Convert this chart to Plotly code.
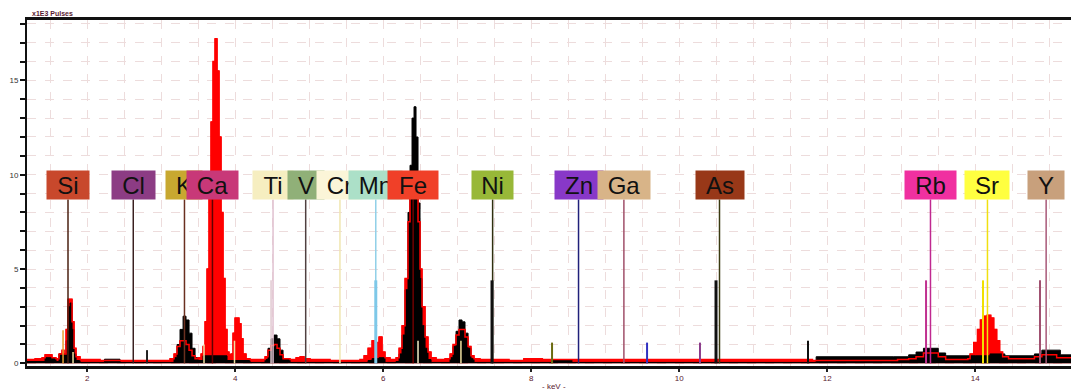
import plotly.graph_objects as go

# ---------------- data ----------------
red_kev = [1.186, 1.295, 1.389, 1.430, 1.470, 1.524, 1.578, 1.619, 1.659, 1.686, 1.714, 1.741, 1.768, 1.795,
           1.822, 1.849, 1.903, 2.173, 2.443, 2.714, 2.984, 3.119, 3.173, 3.214, 3.254, 3.295, 3.335, 3.376,
           3.416, 3.457, 3.497, 3.538, 3.565, 3.592, 3.619, 3.646, 3.673, 3.700, 3.727, 3.754, 3.781, 3.808,
           3.835, 3.862, 3.889, 3.916, 3.943, 3.970, 3.997, 4.024, 4.051, 4.078, 4.105, 4.146, 4.200, 4.335,
           4.403, 4.443, 4.484, 4.524, 4.565, 4.605, 4.646, 4.741, 4.822, 4.876, 4.930, 5.011, 5.281, 5.686,
           5.741, 5.795, 5.849, 5.903, 5.943, 5.984, 6.024, 6.092, 6.173, 6.214, 6.254, 6.295, 6.335, 6.362,
           6.389, 6.416, 6.443, 6.470, 6.497, 6.524, 6.565, 6.605, 6.646, 6.714, 6.835, 6.903, 6.943, 6.984,
           7.024, 7.065, 7.105, 7.146, 7.186, 7.227, 7.308, 7.700, 7.900, 8.150, 8.400, 9.000, 10.00, 11.00,
           11.70, 11.80, 12.50, 12.95, 13.10, 13.20, 13.30, 13.40, 13.50, 13.60, 13.90, 13.93, 13.98, 14.03,
           14.07, 14.11, 14.16, 14.21, 14.25, 14.29, 14.33, 14.37, 14.45, 14.80, 14.90, 15.00, 15.10, 15.402]
red_counts = [0.20, 0.25, 0.30, 0.45, 0.45, 0.30, 0.25, 0.50, 0.70, 0.50, 1.80, 3.40, 3.40, 2.20,
              0.80, 0.35, 0.20, 0.15, 0.15, 0.15, 0.15, 0.25, 0.50, 0.90, 1.20, 1.20, 1.00, 0.70,
              0.40, 0.25, 0.30, 0.50, 0.90, 2.20, 5.00, 9.00, 12.8, 16.0, 17.2, 15.5, 12.0, 8.00,
              4.50, 1.80, 0.60, 0.45, 0.50, 1.60, 2.40, 2.40, 2.10, 1.30, 0.50, 0.25, 0.20, 0.20,
              0.35, 0.70, 0.95, 1.00, 0.80, 0.45, 0.25, 0.20, 0.30, 0.35, 0.25, 0.20, 0.15, 0.20,
              0.40, 0.80, 1.20, 1.10, 1.40, 0.60, 0.30, 0.20, 0.30, 0.80, 2.00, 4.50, 7.50, 9.00,
              9.80, 10.0, 9.20, 7.50, 5.00, 3.00, 1.40, 0.60, 0.30, 0.20, 0.25, 0.50, 1.00, 1.50,
              1.80, 1.80, 1.40, 0.90, 0.40, 0.25, 0.20, 0.15, 0.25, 0.20, 0.20, 0.20, 0.20, 0.20,
              0.20, 0.15, 0.15, 0.20, 0.25, 0.35, 0.55, 0.55, 0.35, 0.20, 0.25, 0.50, 1.10, 1.80,
              2.30, 2.50, 2.55, 2.40, 1.80, 1.20, 0.60, 0.35, 0.25, 0.35, 0.45, 0.45, 0.30, 0.30]

black_kev = [1.186, 1.389, 1.430, 1.524, 1.578, 1.619, 1.686, 1.714, 1.741, 1.768, 1.795, 1.822, 1.849,
             1.903, 2.233, 2.443, 3.119, 3.173, 3.214, 3.254, 3.295, 3.335, 3.376, 3.416, 3.457, 3.497,
             3.565, 3.889, 4.200, 4.403, 4.443, 4.484, 4.524, 4.565, 4.605, 4.646, 4.741, 5.795, 5.849,
             5.943, 6.024, 6.173, 6.214, 6.254, 6.295, 6.335, 6.362, 6.389, 6.416, 6.443, 6.470, 6.497,
             6.524, 6.565, 6.605, 6.646, 6.903, 6.943, 6.984, 7.024, 7.065, 7.105, 7.146, 7.186, 7.227,
             8.300, 8.550, 11.75, 11.85, 12.90, 13.10, 13.20, 13.30, 13.40, 13.50, 13.60, 14.00, 14.20,
             14.40, 14.80, 14.90, 15.00, 15.15, 15.402]
black_counts = [0.10, 0.10, 0.30, 0.28, 0.10, 0.50, 0.45, 1.20, 3.00, 3.20, 1.80, 0.50, 0.15,
                0.05, 0.22, 0.05, 0.05, 0.30, 1.00, 1.80, 2.50, 2.30, 1.60, 0.80, 0.30, 0.15,
                0.40, 0.15, 0.05, 0.20, 0.80, 1.30, 1.50, 1.30, 0.70, 0.20, 0.05, 0.15, 0.25,
                0.30, 0.05, 0.10, 0.50, 1.50, 3.90, 8.00, 10.5, 13.0, 13.6, 12.0, 8.50, 4.50,
                2.00, 0.80, 0.20, 0.05, 0.30, 0.90, 1.70, 2.30, 2.20, 1.60, 0.80, 0.25, 0.05,
                0.20, 0.05, 0.05, 0.35, 0.35, 0.45, 0.60, 0.80, 0.80, 0.55, 0.40, 0.40, 0.50,
                0.40, 0.50, 0.70, 0.70, 0.45, 0.45]

elements = ["Si", "Cl", "K", "Ca", "Ti", "V", "Cr", "Mn", "Fe", "Ni", "Zn", "Ga", "As", "Rb", "Sr", "Y"]
element_kev = [1.740, 2.622, 3.314, 3.692, 4.511, 4.952, 5.415, 5.899, 6.404, 7.478, 8.639, 9.252,
               10.544, 13.395, 14.165, 14.958]

marker_kev = [1.673, 1.808, 2.808, 3.578, 3.990, 4.484, 5.899, 6.470, 7.050, 7.470, 8.281, 9.565,
              10.280, 10.497, 11.740, 13.335, 14.105, 14.875]
marker_height = [1.75, 0.6, 0.7, 1.0, 1.2, 4.4, 4.4, 1.2, 1.2, 4.4, 1.1, 1.1, 1.1, 4.4, 1.2, 4.4, 4.4, 4.4]

y_tick_labels = ["0", "5", "10", "15"]
x_tick_vals = [2, 4, 6, 8, 10, 12, 14]

# ---------------- styles ----------------
box_colors = ["#c8482c", "#8c3c84", "#c8a830", "#c83878", "#f6eec0", "#90b078", "#fbf5d8", "#ace0c8",
              "#f04028", "#98b838", "#8838c8", "#d8b488", "#983818", "#f030a0", "#ffff40", "#c8a07c"]
box_widths = [42, 43, 36, 51, 40, 36, 45, 53, 50, 41, 48, 52, 48, 51, 44, 36]
line_colors = ["#4a2010", "#3a2020", "#6a3020", "#600000", "#e0c0d0", "#504040", "#f0e6b0", "#90d0e8",
               "#700000", "#303010", "#20207a", "#a0506a", "#3a3a10", "#c02890", "#f0e010", "#a85878"]
marker_colors = ["#e8a030", "#f0e0a0", "#202020", "#f0e0a0", "#f0e0a0", "#e0c8d0", "#7ec8e8", "#f4ecc8",
                 "#f0e0a0", "#101010", "#6b6b10", "#3030c0", "#8a3a8a", "#101010", "#101010", "#c03090",
                 "#f0e000", "#a05070"]
marker_widths = [1.5, 1.5, 2, 1.5, 1.5, 1.5, 3, 1.5, 1.5, 3, 2, 2, 2, 3, 2, 2, 2, 2]

BOX_Y = 9.43
BOX_BOTTOM = 8.69
GRID = "#eddcdc"

fig = go.Figure()
fig.add_trace(go.Scatter(x=red_kev, y=red_counts, mode="lines", line=dict(color="#ff0000", width=1, shape="hv"),
                         fill="tozeroy", fillcolor="#ff0000", hoverinfo="skip", showlegend=False))
fig.add_trace(go.Scatter(x=black_kev, y=black_counts, mode="lines", line=dict(color="#000000", width=1, shape="hv"),
                         fill="tozeroy", fillcolor="#000000", hoverinfo="skip", showlegend=False))
fig.add_trace(go.Scatter(x=red_kev, y=red_counts, mode="lines", line=dict(color="#ff0000", width=1.5, shape="hv"),
                         hoverinfo="skip", showlegend=False))

shapes = []
for e, c in zip(element_kev, line_colors):
    shapes.append(dict(type="line", xref="x", yref="y", x0=e, x1=e, y0=0, y1=BOX_BOTTOM,
                       line=dict(color=c, width=1.5), layer="above"))
for e, h, c, w in zip(marker_kev, marker_height, marker_colors, marker_widths):
    shapes.append(dict(type="line", xref="x", yref="y", x0=e, x1=e, y0=0, y1=h,
                       line=dict(color=c, width=w), layer="above"))

annotations = []
for name, e, bc, bw in zip(elements, element_kev, box_colors, box_widths):
    annotations.append(dict(x=e, y=BOX_Y, xref="x", yref="y", text=name, showarrow=False,
                            xanchor="center", yanchor="middle", width=bw, height=28, borderpad=0,
                            bgcolor=bc, align="center",
                            font=dict(family="Liberation Sans, Arial", size=24, color="#111111")))
annotations.append(dict(x=0.003, y=1, xref="paper", yref="paper", text="<b>x1E3 Pulses</b>", showarrow=False,
                        xanchor="left", yanchor="bottom", yshift=1,
                        font=dict(family="Liberation Sans, Arial", size=7, color="#5a1a30")))
annotations.append(dict(x=0.501, y=0, xref="paper", yref="paper", text="- keV -", showarrow=False,
                        xanchor="center", yanchor="top", yshift=-14,
                        font=dict(family="Liberation Sans, Arial", size=8, color="#5a1a30")))

y_vals = list(range(0, 19))
y_text = [y_tick_labels[v // 5] if v % 5 == 0 else "" for v in y_vals]

# page body has an 8px default margin; the figure is sized so the plot lands where the reference has it
fig.update_layout(
    width=1071, height=383,
    margin=dict(l=19, r=0, t=12, b=25),
    paper_bgcolor="white", plot_bgcolor="white",
    shapes=shapes, annotations=annotations,
    xaxis=dict(range=[1.186, 15.402], tickvals=x_tick_vals, ticks="outside", ticklen=3, tickwidth=1.5,
               tickcolor="#222", showline=True, linecolor="#111", linewidth=2.5, mirror=True,
               showgrid=True, gridcolor=GRID, griddash="dash", gridwidth=1, automargin=False,
               minor=dict(dtick=0.5, showgrid=True, gridcolor=GRID, griddash="dash"),
               tickfont=dict(family="Liberation Sans, Arial", size=8, color="#5a1a30"), zeroline=False),
    yaxis=dict(range=[-0.14, 18.2], tickvals=y_vals, ticktext=y_text, ticks="outside", ticklen=5, tickwidth=2,
               tickcolor="#111", showline=True, linecolor="#111", linewidth=2, automargin=False,
               showgrid=True, gridcolor=GRID, griddash="dash", gridwidth=1,
               tickfont=dict(family="Liberation Sans, Arial", size=8, color="#333"), zeroline=False),
)

fig.write_html("out.html")
